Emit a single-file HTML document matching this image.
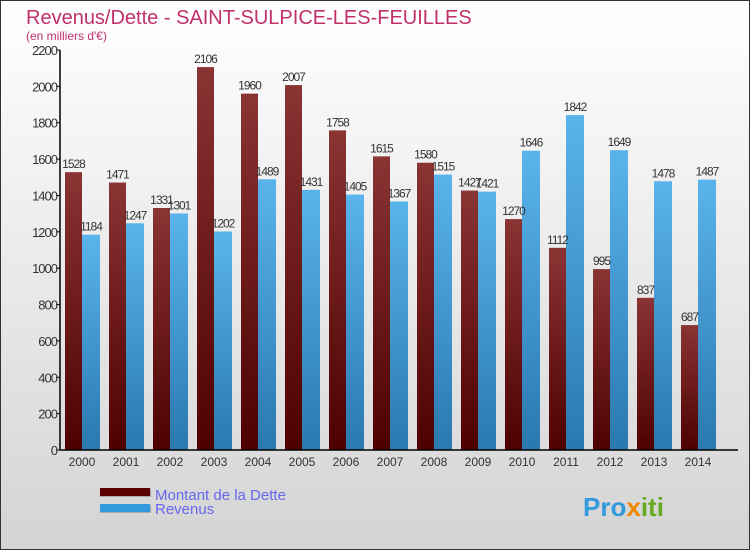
<!DOCTYPE html>
<html><head><meta charset="utf-8"><style>
body{margin:0;width:750px;height:550px;overflow:hidden}
svg{display:block;font-family:"Liberation Sans",sans-serif}
</style></head><body>
<svg width="750" height="550" viewBox="0 0 750 550">
<defs>
<linearGradient id="bg" x1="0" y1="0" x2="0" y2="1"><stop offset="0" stop-color="#ffffff"/><stop offset="1" stop-color="#d4d4d4"/></linearGradient>
<linearGradient id="gd" x1="0" y1="0" x2="0" y2="1"><stop offset="0" stop-color="#8a3434"/><stop offset="1" stop-color="#4e0000"/></linearGradient>
<linearGradient id="gr" x1="0" y1="0" x2="0" y2="1"><stop offset="0" stop-color="#5ab4ec"/><stop offset="1" stop-color="#2a78b0"/></linearGradient>
</defs>
<rect x="0.5" y="0.5" width="749" height="549" fill="url(#bg)" stroke="#333"/>
<text x="26" y="24" font-size="20" fill="#c0306a">Revenus/Dette - SAINT-SULPICE-LES-FEUILLES</text>
<text x="26" y="40" font-size="12" fill="#c0306a">(en milliers d'€)</text>
<g id="plot"></g>
<g>
<rect x="100" y="489" width="51" height="8" fill="#aaa"/><rect x="100" y="488" width="50" height="8" fill="#5a0000"/>
<text x="155" y="500" font-size="15" fill="#6666ee">Montant de la Dette</text>
<rect x="100" y="505" width="51" height="8" fill="#aaa"/><rect x="100" y="504" width="50" height="8" fill="#3399dd"/>
<text x="155" y="514" font-size="15" fill="#6666ee">Revenus</text>
</g>
<text x="583" y="516" font-size="26" font-weight="bold" fill="#3399dd">Pro<tspan fill="#ee8800">x</tspan><tspan fill="#66aa22">iti</tspan></text>
</svg>
<script>
const years=["2000","2001","2002","2003","2004","2005","2006","2007","2008","2009","2010","2011","2012","2013","2014"];
const dette=[1528,1471,1331,2106,1960,2007,1758,1615,1580,1427,1270,1112,995,837,687];
const revenus=[1184,1247,1301,1202,1489,1431,1405,1367,1515,1421,1646,1842,1649,1478,1487];
const ticks=[0,200,400,600,800,1000,1200,1400,1600,1800,2000,2200];
const NS="http://www.w3.org/2000/svg";
const g=document.getElementById('plot');
const y=v=>450-v*400/2200;
const x0=i=>65+i*44;
function mk(t,a){const e=document.createElementNS(NS,t);for(const k in a)e.setAttribute(k,a[k]);g.appendChild(e);return e;}
ticks.forEach(t=>{
 const l=mk('line',{x1:56,x2:60,y1:y(t),y2:y(t),stroke:'#000'});
 
 
 const tx=mk('text',{x:57,y:y(t)+5,'font-size':13,'text-anchor':'end',fill:'#333','letter-spacing':'-1'});
 tx.textContent=t;
 
 
});
years.forEach((yr,i)=>{
 const d=mk('rect',{x:x0(i),y:y(dette[i]),width:17,height:450-y(dette[i]),fill:'url(#gd)'});
 
 
 const r=mk('rect',{x:x0(i)+17,y:y(revenus[i]),width:18,height:450-y(revenus[i]),fill:'url(#gr)'});
 
 
 const t1=mk('text',{x:x0(i)+8.5,y:y(dette[i])-4,'font-size':12,'text-anchor':'middle',fill:'#333','letter-spacing':'-1'});
 t1.textContent=dette[i];
 
 
 const t2=mk('text',{x:x0(i)+26,y:y(revenus[i])-4,'font-size':12,'text-anchor':'middle',fill:'#333','letter-spacing':'-1'});
 t2.textContent=revenus[i];
 
 
 const xl=mk('text',{x:x0(i)+17,y:466,'font-size':12,'text-anchor':'middle',fill:'#333'});
 xl.textContent=yr;
 
 
});
const ax=mk('line',{x1:60,x2:60,y1:50,y2:450,stroke:'#000','stroke-width':1.5});


const bx=mk('line',{x1:60,x2:738,y1:450,y2:450,stroke:'#000','stroke-width':1.5});


</script>
</body></html>
